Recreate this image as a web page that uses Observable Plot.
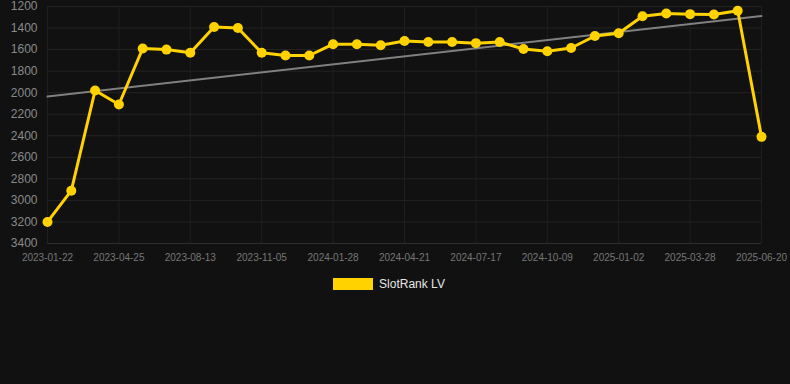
<!DOCTYPE html>
<html>
<head>
<meta charset="utf-8">
<script src="https://cdn.jsdelivr.net/npm/d3@7"></script>
<script src="https://cdn.jsdelivr.net/npm/@observablehq/plot@0.6"></script>
<style>
  html, body { margin: 0; padding: 0; background: #111111; }
  body { width: 790px; height: 384px; overflow: hidden; font-family: "Liberation Sans", Arial, sans-serif; }
  #legend { display: flex; justify-content: center; align-items: center; margin-top: 8px; height: 12px; padding-right: 12px; }
  #legend .sw { width: 40px; height: 12px; background: #ffd200; margin-right: 6px; }
  #legend .lb { color: #e6e6e6; font-size: 12px; }
</style>
</head>
<body>
<div id="chart"></div>
<div id="legend"><div class="sw"></div><div class="lb">SlotRank LV</div></div>
<script>
// Rank values, one per sample (equally spaced on the x axis)
const rankValues = [3200, 2910, 1980, 2110, 1590, 1600, 1630, 1390, 1400, 1630,
                    1655, 1655, 1550, 1550, 1560, 1520, 1530, 1530, 1540, 1530,
                    1595, 1615, 1585, 1474, 1449, 1290, 1265, 1271, 1274, 1240, 2410];
// Labelled dates (every third sample)
const tickDates = ["2023-01-22", "2023-04-25", "2023-08-13", "2023-11-05", "2024-01-28",
                   "2024-04-21", "2024-07-17", "2024-10-09", "2025-01-02", "2025-03-28", "2025-06-20"];
const tickEvery = 3;
const yTicks = [1200, 1400, 1600, 1800, 2000, 2200, 2400, 2600, 2800, 3000, 3200, 3400];
const seriesName = "SlotRank LV";

const data = rankValues.map((v, i) => ({i, v}));
const xTicks = tickDates.map((d, k) => k * tickEvery);
const labelAt = new Map(xTicks.map((t, k) => [t, tickDates[k]]));

const chart = Plot.plot({
  width: 790,
  height: 270,
  marginLeft: 47,
  marginRight: 29,
  marginTop: 6,
  marginBottom: 27,
  style: { background: "#111111", fontFamily: "Liberation Sans, Arial, sans-serif" },
  x: { domain: [0, rankValues.length - 1], ticks: xTicks, tickFormat: t => labelAt.get(t) ?? "" },
  y: { domain: [1200, 3400], reverse: true, ticks: yTicks, tickFormat: d3.format("d") },
  marks: [
    Plot.gridY(yTicks, { stroke: "#242424", strokeOpacity: 1 }),
    Plot.gridX(xTicks, { stroke: "#1f1f1f", strokeOpacity: 1 }),
    Plot.ruleY([3400], { stroke: "#2e2e2e" }),
    Plot.axisY(yTicks, { tickSize: 0, tickPadding: 10, fontSize: 12, fill: "#8a8a8a", label: null, tickFormat: d3.format("d") }),
    Plot.axisX(xTicks, { tickSize: 0, tickPadding: 10, fontSize: 10, fill: "#777777", label: null, tickFormat: t => labelAt.get(t) }),
    Plot.linearRegressionY(data, { x: "i", y: "v", ci: 0, stroke: "#808080", strokeWidth: 2 }),
    Plot.line(data, { x: "i", y: "v", stroke: "#ffd200", strokeWidth: 3 }),
    Plot.dot(data, { x: "i", y: "v", r: 5, fill: "#ffd200", stroke: "none" })
  ]
});
document.getElementById("chart").appendChild(chart);
document.querySelector("#legend .lb").textContent = seriesName;
</script>
</body>
</html>
